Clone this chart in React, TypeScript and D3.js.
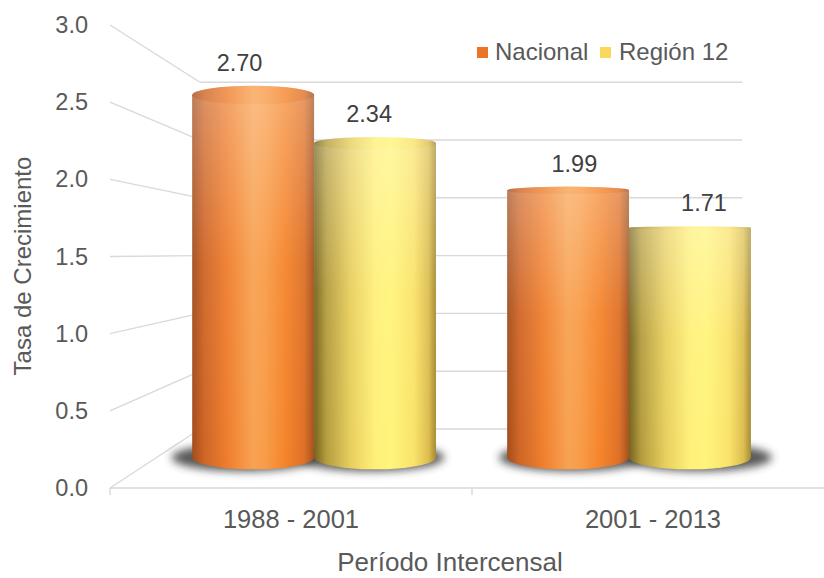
import React from 'react';
import { scaleBand, scaleLinear } from 'd3';

const width = 824;
const height = 578;

const categories = ['1988 - 2001', '2001 - 2013'];
const seriesNames = ['Nacional', 'Región 12'];
const nacional = [2.7, 1.99];
const region12 = [2.34, 1.71];
const yTicks = [0, 0.5, 1, 1.5, 2, 2.5, 3];

const textColor = '#595959';
const gridColor = '#d9d9d9';
const font = '"Liberation Sans", Arial, sans-serif';

// perspective: front plane, back wall and the plane the cylinders sit in
const vp = { x: 468.5, y: 253 };
const BACK = 0.749;
const BARS = 0.87;
const LABELS = 0.925;
const proj = (x: number, y: number, s: number) => [vp.x + s * (x - vp.x), vp.y + s * (y - vp.y)];
const ryAt = (y: number) => Math.abs(y - vp.y) * 0.058;

const x = scaleBand().domain(categories).range([110, 834]);
const inner = scaleBand().domain(seriesNames).range([-0.387, 0.387]);
const y = scaleLinear().domain([0, 3]).range([488, 25]);

const valuesFor = (name: string) => (name === 'Nacional' ? nacional : region12);
const gradId = (name: string) => (name === 'Nacional' ? 'gNac' : 'gReg');

const bars = categories.flatMap((c, i) =>
  seriesNames.map((name) => {
    const v = valuesFor(name)[i];
    const bw = x.bandwidth();
    const fc = x(c)! + bw / 2;
    const fl = fc + inner(name)! * bw;
    const fr = fl + inner.bandwidth() * bw;
    const [x0, yt] = proj(fl, y(v), BARS);
    const [x1, yb] = proj(fr, y(0), BARS);
    return { key: c + name, name, v, x0, x1, yt, yb, cx: (x0 + x1) / 2, r: (x1 - x0) / 2 };
  })
);

const App = () => {
  return (
    <svg width={width} height={height} style={{ position: 'absolute', left: 0, top: 0, background: '#fff' }}>
      <defs>
        <linearGradient id="gNac" x1="0" x2="1" y1="0" y2="0">
          <stop offset="0" stopColor="#a24d1c" />
          <stop offset="0.1" stopColor="#cf6526" />
          <stop offset="0.3" stopColor="#f0802e" />
          <stop offset="0.5" stopColor="#f8a252" />
          <stop offset="0.6" stopColor="#f89c48" />
          <stop offset="0.76" stopColor="#f5852c" />
          <stop offset="0.92" stopColor="#de7026" />
          <stop offset="1" stopColor="#a3521e" />
        </linearGradient>
        <linearGradient id="gReg" x1="0" x2="1" y1="0" y2="0">
          <stop offset="0" stopColor="#75631c" />
          <stop offset="0.1" stopColor="#b49c3e" />
          <stop offset="0.3" stopColor="#e8cf5e" />
          <stop offset="0.5" stopColor="#fff07a" />
          <stop offset="0.63" stopColor="#fff47c" />
          <stop offset="0.82" stopColor="#fae36a" />
          <stop offset="0.94" stopColor="#dcbd50" />
          <stop offset="1" stopColor="#a48a30" />
        </linearGradient>
        <linearGradient id="gShine" x1="0" x2="0" y1="0" y2="1">
          <stop offset="0" stopColor="#fff" stopOpacity="0.28" />
          <stop offset="0.45" stopColor="#fff" stopOpacity="0.05" />
          <stop offset="1" stopColor="#fff" stopOpacity="0" />
        </linearGradient>
        <filter id="blur" x="-30%" y="-100%" width="160%" height="300%">
          <feGaussianBlur stdDeviation="4.5" />
        </filter>
      </defs>

      {/* walls */}
      {yTicks.map((t) => {
        const [bx, by] = proj(110, y(t), BACK);
        const [ex] = proj(834, y(t), BACK);
        return (
          <g key={t} stroke={gridColor} strokeWidth={1.4} fill="none">
            <line x1={110} y1={y(t)} x2={bx} y2={by} />
            <line x1={bx} y1={by} x2={ex} y2={by} />
          </g>
        );
      })}
      <line x1={110} y1={y(0)} x2={834} y2={y(0)} stroke={gridColor} strokeWidth={1.6} />
      {[...categories.map((c) => x(c)!), 834].map((t) => (
        <line key={t} x1={t} y1={y(0)} x2={t} y2={y(0) + 7} stroke={gridColor} strokeWidth={1.4} />
      ))}

      {/* shadows */}
      {bars.map((b) => (
        <ellipse
          key={'s' + b.key}
          cx={b.cx + (b.cx - vp.x) * 0.04}
          cy={b.yb}
          rx={b.r + 12}
          ry={ryAt(b.yb) + 2}
          fill="#3a3a3a"
          opacity={0.85}
          filter="url(#blur)"
        />
      ))}

      {/* cylinders */}
      {bars.map((b) => {
        const ryb = ryAt(b.yb);
        const ryt = ryAt(b.yt);
        const body = `M${b.x0},${b.yt} L${b.x0},${b.yb} A${b.r},${ryb} 0 0 0 ${b.x1},${b.yb} L${b.x1},${b.yt} Z`;
        return (
          <g key={b.key}>
            <path d={body} fill={`url(#${gradId(b.name)})`} />
            <path d={body} fill="url(#gShine)" />
            <ellipse cx={b.cx} cy={b.yt} rx={b.r} ry={ryt} fill={`url(#${gradId(b.name)})`} />
            <ellipse cx={b.cx} cy={b.yt} rx={b.r} ry={ryt} fill="#fff" opacity={0.2} />
          </g>
        );
      })}

      {/* data labels */}
      {bars.map((b) => {
        const [lx] = proj(vp.x + (b.cx - vp.x) / BARS, 0, LABELS);
        return (
          <text
            key={'l' + b.key}
            x={lx}
            y={b.yt - ryAt(b.yt) - 15}
            textAnchor="middle"
            fontFamily={font}
            fontSize={23.5}
            fill="#404040"
          >
            {b.v.toFixed(2)}
          </text>
        );
      })}

      {/* y axis */}
      {yTicks.map((t) => (
        <text
          key={'t' + t}
          x={88}
          y={y(t) + 8}
          textAnchor="end"
          fontFamily={font}
          fontSize={23.5}
          fill={textColor}
        >
          {t.toFixed(1)}
        </text>
      ))}
      <text
        transform="translate(31,266) rotate(-90)"
        textAnchor="middle"
        fontFamily={font}
        fontSize={24}
        fill={textColor}
      >
        Tasa de Crecimiento
      </text>

      {/* x axis */}
      {categories.map((c) => (
        <text
          key={c}
          x={x(c)! + x.bandwidth() / 2}
          y={528}
          textAnchor="middle"
          fontFamily={font}
          fontSize={25.5}
          fill={textColor}
        >
          {c}
        </text>
      ))}
      <text x={450} y={571} textAnchor="middle" fontFamily={font} fontSize={26} fill={textColor}>
        Período Intercensal
      </text>

      {/* legend */}
      <rect x={477} y={47} width={11} height={11} fill="#ec7428" />
      <text x={495} y={60} fontFamily={font} fontSize={24} fill={textColor}>
        Nacional
      </text>
      <rect x={600} y={47} width={11} height={11} fill="#f9d95c" />
      <text x={619} y={60} fontFamily={font} fontSize={24} fill={textColor}>
        Región 12
      </text>
    </svg>
  );
};

export default App;
